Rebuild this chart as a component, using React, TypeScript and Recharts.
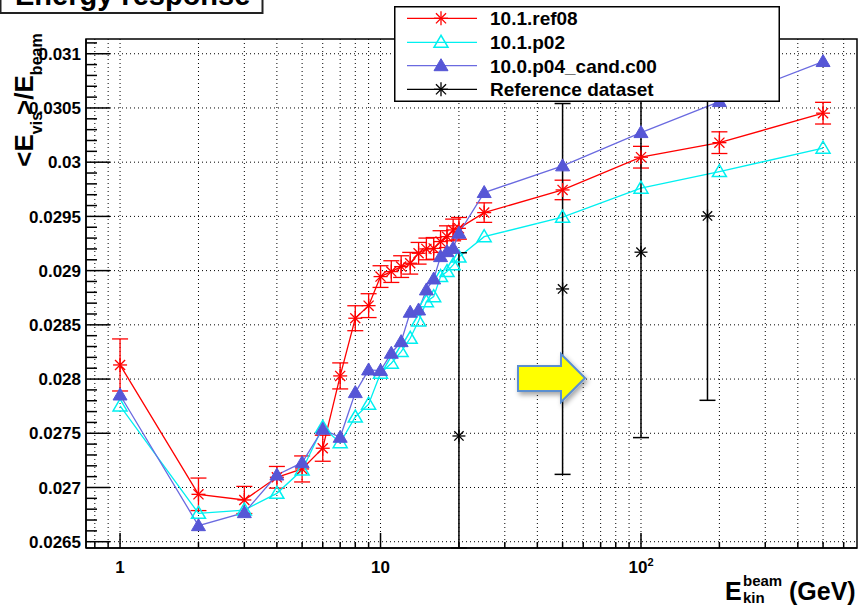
import React from 'react';
import {
  ComposedChart,
  Line,
  XAxis,
  YAxis,
  ErrorBar,
  ReferenceLine,
  ReferenceArea,
  Legend,
} from 'recharts';

// ---------------- data ----------------
const energies = [1, 2, 3, 4, 5, 6, 7, 8, 9, 10, 11, 12, 13, 14, 15, 16, 17, 18, 19, 20, 25, 50, 100, 200, 500];

const ref08Values = [
  0.02813, 0.026937, 0.026885, 0.027094, 0.027171, 0.027362, 0.028029, 0.028561, 0.028677,
  0.028945, 0.028991, 0.029037, 0.029068, 0.02916, 0.0292, 0.029205, 0.029268, 0.029313, 0.029375, 0.02939,
  0.029535, 0.029744, 0.030046, 0.03018, 0.030452,
];
const ref08Errors = [
  0.00024, 0.00015, 0.000125, 0.0001, 0.00012, 0.00012, 0.00012, 0.000115, 0.00011,
  0.0001, 0.0001, 0.0001, 0.0001, 0.0001, 0.0001, 0.0001, 0.0001, 0.0001, 0.0001, 0.0001,
  0.00009, 0.00009, 0.0001, 0.0001, 0.0001,
];
const p02Values = [
  0.027752, 0.026762, 0.026792, 0.026946, 0.027161, 0.027555, 0.027413, 0.02765, 0.027768,
  0.028054, 0.028146, 0.028253, 0.028376, 0.028535, 0.028714, 0.02876, 0.028945, 0.028991, 0.029053, 0.029125,
  0.029313, 0.029493, 0.02976, 0.029913, 0.030129,
];
const p04Values = [
  0.027853, 0.026648, 0.026768, 0.027115, 0.027229, 0.027537, 0.027463, 0.027875, 0.028084,
  0.028078, 0.028238, 0.028345, 0.028616, 0.028637, 0.028822, 0.028923, 0.029129, 0.029175, 0.029207, 0.029345,
  0.02972, 0.029966, 0.030273, 0.030559, 0.030928,
];

const refEnergies = [20, 50, 100, 180];
const refValues = [0.027475, 0.028831, 0.02917, 0.029504];
const refErrors = [0.00169, 0.00171, 0.00171, 0.0017];

const legendNames = ['10.1.ref08', '10.1.p02', '10.0.p04_cand.c00', 'Reference dataset'];
const legendColors = ['#ff0000', '#00f0f0', '#6a6ae0', '#000000'];
const legendMarkers = ['star', 'openTri', 'fillTri', 'star'];

const xMajorTicks = [1, 10, 100];
const xMinorTicks = [0.8, 0.9, 2, 3, 4, 5, 6, 7, 8, 9, 20, 30, 40, 50, 60, 70, 80, 90, 200, 300, 400, 500, 600];
const yMajorTicks = [0.0265, 0.027, 0.0275, 0.028, 0.0285, 0.029, 0.0295, 0.03, 0.0305, 0.031];

const X_DOMAIN: [number, number] = [0.74, 675];
const Y_DOMAIN: [number, number] = [0.026442, 0.031136];

// ---------------- derived tables ----------------
// error bars are limited to the frame (the plot clips them there)
const clampErr = (v: number, e: number): [number, number] => [
  Math.min(e, v - Y_DOMAIN[0]),
  Math.min(e, Y_DOMAIN[1] - v),
];
const ref08Data = energies.map((E, i) => ({ E, v: ref08Values[i], err: clampErr(ref08Values[i], ref08Errors[i]) }));
const p02Data = energies.map((E, i) => ({ E, v: p02Values[i] }));
const p04Data = energies.map((E, i) => ({ E, v: p04Values[i] }));
const refData = refEnergies.map((E, i) => ({ E, v: refValues[i], err: clampErr(refValues[i], refErrors[i]) }));

const xTicks = [...xMajorTicks, ...xMinorTicks].sort((a, b) => a - b);
const yTicks: number[] = [];
yMajorTicks.forEach((m) => {
  for (let k = 0; k < 5; k++) {
    const t = Math.round((m + k * 0.0001) * 1e6) / 1e6;
    if (t <= Y_DOMAIN[1]) yTicks.push(t);
  }
});

const FONT = '"Liberation Sans", Arial, Helvetica, sans-serif';
const RED = '#ff0000';
const CYAN = '#00f0f0';
const BLUE_LINE = '#6a6ae0';
const BLUE_FILL = '#5656d6';

const isYMajor = (v: number) => yMajorTicks.some((m) => Math.abs(m - v) < 1e-8);
const isXMajor = (v: number) => xMajorTicks.some((m) => Math.abs(m - v) < 1e-8);

// ---------------- markers ----------------
const Star = ({ cx, cy, color, r = 7 }: any) => {
  const d = r * 0.72;
  return (
    <g stroke={color} strokeWidth={1.3} fill="none">
      <line x1={cx - r} y1={cy} x2={cx + r} y2={cy} />
      <line x1={cx} y1={cy - r} x2={cx} y2={cy + r} />
      <line x1={cx - d} y1={cy - d} x2={cx + d} y2={cy + d} />
      <line x1={cx - d} y1={cy + d} x2={cx + d} y2={cy - d} />
    </g>
  );
};

const Tri = ({ cx, cy, color, filled }: any) => (
  <polygon
    points={`${cx},${cy - 7} ${cx - 7},${cy + 5} ${cx + 7},${cy + 5}`}
    fill={filled ? color : 'none'}
    stroke={color}
    strokeWidth={filled ? 1 : 1.5}
  />
);

const Marker = ({ kind, cx, cy, color }: any) => {
  if (kind === 'star') return <Star cx={cx} cy={cy} color={color} />;
  if (kind === 'openTri') return <Tri cx={cx} cy={cy} color={CYAN} filled={false} />;
  return <Tri cx={cx} cy={cy} color={BLUE_FILL} filled />;
};

// ---------------- ticks ----------------
const YTick = (props: any) => {
  const { x, y, payload } = props;
  const v = payload.value;
  const major = isYMajor(v);
  return (
    <g>
      <line x1={x} x2={x + (major ? 24 : 11)} y1={y} y2={y} stroke="#000" strokeWidth={1.5} />
      {major && (
        <text x={x - 5} y={y} dy="0.36em" textAnchor="end" fontFamily={FONT} fontWeight="bold" fontSize={17} fill="#000">
          {String(Number(v.toFixed(4)))}
        </text>
      )}
    </g>
  );
};

const XTick = (props: any) => {
  const { x, y, payload } = props;
  const v = payload.value;
  const major = isXMajor(v);
  let label: React.ReactNode = null;
  if (major) {
    if (v === 100) {
      label = (
        <>
          10<tspan dy={-7} fontSize={11}>2</tspan>
        </>
      );
    } else label = String(v);
  }
  return (
    <g>
      <line x1={x} x2={x} y1={y} y2={y - (major ? 15 : 6)} stroke="#000" strokeWidth={1.5} />
      {major && (
        <text x={x} y={y + 25} textAnchor="middle" fontFamily={FONT} fontWeight="bold" fontSize={17} fill="#000">
          {label}
        </text>
      )}
    </g>
  );
};

// ---------------- legend ----------------
const LegendBox = () => {
  const rows = [12.3, 36.3, 59.7, 83.3];
  return (
    <svg width={386} height={96} style={{ display: 'block' }}>
      <rect x={0.75} y={0.75} width={384.5} height={94.5} fill="#fff" stroke="#000" strokeWidth={1.5} />
      {legendNames.map((name, i) => (
        <g key={name}>
          <line x1={13} x2={83} y1={rows[i]} y2={rows[i]} stroke={legendColors[i]} strokeWidth={1.3} />
          <Marker kind={legendMarkers[i]} cx={47} cy={rows[i]} color={legendColors[i]} />
          <text x={96} y={rows[i]} dy="0.36em" fontFamily={FONT} fontWeight="bold" fontSize={19} fill="#000">
            {name}
          </text>
        </g>
      ))}
    </svg>
  );
};

export default function App() {
  return (
    <div style={{ position: 'absolute', left: 0, top: 0, width: 859, height: 607, overflow: 'hidden', background: '#fff' }}>
      <ComposedChart width={859} height={607} margin={{ top: 39, right: 2, left: 0, bottom: 0 }}>
        <XAxis
          type="number"
          dataKey="E"
          scale="log"
          domain={X_DOMAIN}
          allowDataOverflow
          ticks={xTicks}
          interval={0}
          tick={<XTick />}
          tickLine={false}
          tickSize={0}
          tickMargin={0}
          height={59}
          axisLine={{ stroke: '#000', strokeWidth: 1.5 }}
        />
        <YAxis
          type="number"
          domain={Y_DOMAIN}
          allowDataOverflow
          ticks={yTicks}
          interval={0}
          tick={<YTick />}
          tickLine={false}
          tickSize={0}
          tickMargin={0}
          width={86}
          axisLine={{ stroke: '#000', strokeWidth: 1.5 }}
        />
        {xTicks.map((t) => (
          <ReferenceLine key={'gx' + t} x={t} stroke="#000" strokeWidth={1} strokeDasharray="1 3" />
        ))}
        {yMajorTicks.map((t) => (
          <ReferenceLine key={'gy' + t} y={t} stroke="#000" strokeWidth={1} strokeDasharray="1 3" />
        ))}
        <ReferenceArea
          x1={X_DOMAIN[0]}
          x2={X_DOMAIN[1]}
          y1={Y_DOMAIN[0]}
          y2={Y_DOMAIN[1]}
          fill="none"
          fillOpacity={0}
          stroke="#000"
          strokeWidth={1.5}
        />
        <Line
          data={ref08Data}
          dataKey="v"
          type="linear"
          stroke={RED}
          strokeWidth={1.3}
          isAnimationActive={false}
          activeDot={false}
          dot={(p: any) => <Star key={'r' + p.index} cx={p.cx} cy={p.cy} color={RED} />}
        >
          <ErrorBar dataKey="err" direction="y" width={8} stroke={RED} strokeWidth={1.3} isAnimationActive={false} />
        </Line>
        <Line
          data={p02Data}
          dataKey="v"
          type="linear"
          stroke={CYAN}
          strokeWidth={1.3}
          isAnimationActive={false}
          activeDot={false}
          dot={(p: any) => <Tri key={'c' + p.index} cx={p.cx} cy={p.cy} color={CYAN} filled={false} />}
        />
        <Line
          data={p04Data}
          dataKey="v"
          type="linear"
          stroke={BLUE_LINE}
          strokeWidth={1.3}
          isAnimationActive={false}
          activeDot={false}
          dot={(p: any) => <Tri key={'b' + p.index} cx={p.cx} cy={p.cy} color={BLUE_FILL} filled />}
        />
        <Line
          data={refData}
          dataKey="v"
          type="linear"
          stroke="none"
          strokeWidth={0}
          isAnimationActive={false}
          activeDot={false}
          dot={(p: any) => <Star key={'k' + p.index} cx={p.cx} cy={p.cy} color="#000" r={6.5} />}
        >
          <ErrorBar dataKey="err" direction="y" width={8} stroke="#000" strokeWidth={1.5} isAnimationActive={false} />
        </Line>
        <Legend
          layout="horizontal"
          verticalAlign="middle"
          align="center"
          content={() => <LegendBox />}
          wrapperStyle={{ position: 'absolute', left: 394, top: 6, width: 386, height: 96, margin: 0, padding: 0, lineHeight: 0 }}
        />
      </ComposedChart>

      {/* overlays: title box, axis titles, arrow */}
      <svg width={859} height={607} style={{ position: 'absolute', left: 0, top: 0, pointerEvents: 'none' }}>
        <defs>
          <filter id="arrowShadow" x="-30%" y="-30%" width="160%" height="160%">
            <feDropShadow dx={2} dy={3} stdDeviation={2.5} floodColor="#000" floodOpacity={0.35} />
          </filter>
        </defs>
        <rect x={0.5} y={-30} width={262} height={43} fill="#fff" stroke="#222" strokeWidth={2} />
        <text x={15} y={5} fontFamily={FONT} fontWeight="bold" fontSize={29} fill="#000">
          Energy response
        </text>

        <text
          transform="translate(33,100) rotate(-90)"
          textAnchor="middle"
          fontFamily={FONT}
          fontWeight="bold"
          fontSize={26}
          fill="#000"
        >
          {'<E'}
          <tspan fontSize={16} dy={9}>vis</tspan>
          <tspan dy={-9} dx={-3}>{'>/E'}</tspan>
          <tspan fontSize={16} dy={9}>beam</tspan>
        </text>

        <text x={725} y={600} fontFamily={FONT} fontWeight="bold" fontSize={25} fill="#000">E</text>
        <text x={743} y={586} fontFamily={FONT} fontWeight="bold" fontSize={15} fill="#000">beam</text>
        <text x={743} y={603} fontFamily={FONT} fontWeight="bold" fontSize={15} fill="#000">kin</text>
        <text x={789} y={600} fontFamily={FONT} fontWeight="bold" fontSize={25} fill="#000">(GeV)</text>

        <polygon
          points="518,366 561,366 561,354 585,378 561,402 561,391 518,391"
          fill="#ffff00"
          stroke="#5b8fd0"
          strokeWidth={2}
          strokeLinejoin="miter"
          filter="url(#arrowShadow)"
        />
      </svg>
    </div>
  );
}
